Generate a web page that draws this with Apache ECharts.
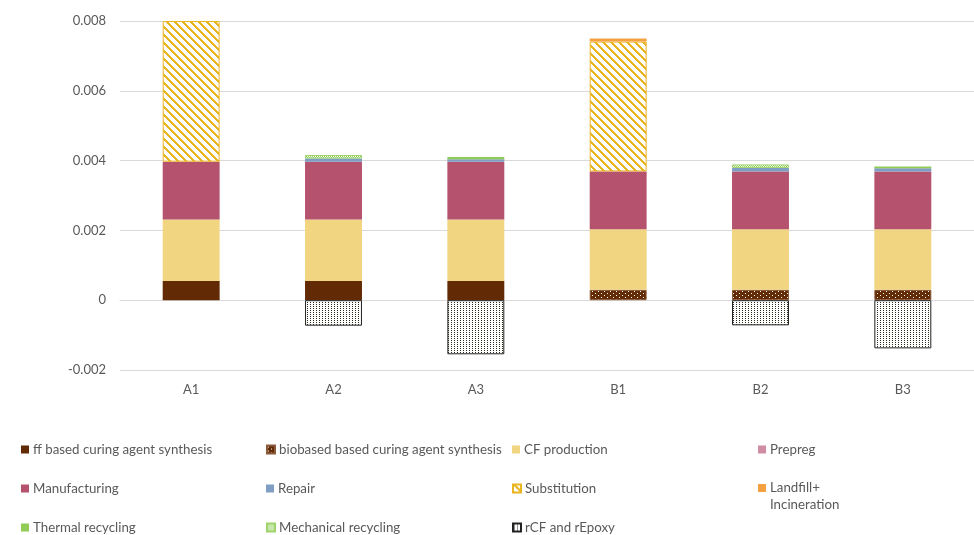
<!DOCTYPE html>
<html>
<head>
<meta charset="utf-8">
<script src="https://cdn.jsdelivr.net/npm/echarts@6/dist/echarts.min.js"></script>
<style>html,body{margin:0;padding:0;background:#fff;}#c{width:974px;height:535px;}</style>
</head>
<body>
<div id="c"></div>
<script>
var categories = ['A1','A2','A3','B1','B2','B3'];
var yTicks = [-0.002, 0, 0.002, 0.004, 0.006, 0.008];
var ffCuring      = [0.00055, 0.00055, 0.00055, 0, 0, 0];
var bioCuring     = [0, 0, 0, 0.0003, 0.0003, 0.0003];
var cfProduction  = [0.00176, 0.00176, 0.00176, 0.00173, 0.00173, 0.00173];
var prepreg       = [0, 0, 0, 0, 0, 0];
var manufacturing = [0.00166, 0.00166, 0.00166, 0.00166, 0.00166, 0.00166];
var repair        = [0, 0.00009, 0.00007, 0, 0.0001, 0.00009];
var substitution  = [0.00403, 0, 0, 0.00372, 0, 0];
var landfill      = [0, 0, 0, 0.00009, 0, 0];
var thermal       = [0, 0, 0.00006, 0, 0, 0.00005];
var mechanical    = [0, 0.0001, 0, 0, 0.0001, 0];
var rcfEpoxy      = [0, -0.00073, -0.00155, 0, -0.00072, -0.00138];

function mk(w, h, draw) {
  var c = document.createElement('canvas'); c.width = w; c.height = h;
  var g = c.getContext('2d'); draw(g); return c;
}
var stripe = mk(8, 8, function (g) {
  g.fillStyle = '#fff'; g.fillRect(0, 0, 8, 8);
  g.fillStyle = '#E9B523';
  for (var y = 0; y < 8; y++) {
    for (var j = 0; j < 3; j++) g.fillRect((y + j) % 8, y, 1, 1);
  }
});
var bioPat = mk(6, 4, function (g) {
  g.fillStyle = '#632A06'; g.fillRect(0, 0, 6, 4);
  g.fillStyle = '#fff'; g.fillRect(1, 1, 1, 1); g.fillRect(4, 3, 1, 1);
});
var rcfPat = mk(3, 2, function (g) {
  g.fillStyle = '#fff'; g.fillRect(0, 0, 3, 2);
  g.fillStyle = '#2d2d1e'; g.fillRect(1, 0, 1, 1);
});
var mechPat = mk(2, 2, function (g) {
  g.fillStyle = '#fff'; g.fillRect(0, 0, 2, 2);
  g.fillStyle = '#92CF5A'; g.fillRect(0, 0, 1, 1); g.fillRect(1, 1, 1, 1);
});
function pat(c) { return { image: c, repeat: 'repeat' }; }

var defs = [
  ['ff based curing agent synthesis', ffCuring, '#632A06', null],
  ['biobased based curing agent synthesis', bioCuring, pat(bioPat), '#8a5a3a'],
  ['CF production', cfProduction, '#F1D580', null],
  ['Prepreg', prepreg, '#CF8CA2', null],
  ['Manufacturing', manufacturing, '#B5536F', null],
  ['Repair', repair, '#7F9EC3', null],
  ['Substitution', substitution, pat(stripe), '#E9B523'],
  ['Landfill+\nIncineration', landfill, '#F4A142', null],
  ['Thermal recycling', thermal, '#8FCB55', null],
  ['Mechanical recycling', mechanical, pat(mechPat), '#9ED46B'],
  ['rCF and rEpoxy', rcfEpoxy, pat(rcfPat), '#222']
];
var series = defs.map(function (d) {
  return {
    name: d[0], type: 'bar', stack: 'total', barWidth: '40%',
    data: d[1].map(function (v) { return v === 0 ? null : v; }),
    itemStyle: { color: d[2], borderColor: d[3] || 'transparent', borderWidth: d[3] ? 1 : 0 },
    emphasis: { disabled: true }
  };
});
var legPos = [
  [21, 449], [266, 449], [512, 449], [758, 449],
  [21, 488], [266, 488], [512, 488], [758, 488],
  [21, 527], [266, 527], [512, 527]
];
var topIcon = 'path://M0,0h0.01v0.01h-0.01z M0,4.5h8v8h-8z M0,33.99h0.01v0.01h-0.01z';
var legends = defs.map(function (d, i) {
  var multi = d[0].indexOf('\n') >= 0;
  return {
    data: [d[0]], left: legPos[i][0], top: multi ? legPos[i][1] - 8.5 : legPos[i][1] - 8,
    orient: 'horizontal',
    icon: multi ? topIcon : 'rect', itemWidth: 8, itemHeight: multi ? 34 : 8, itemGap: 4, padding: 0,
    selectedMode: false,
    textStyle: { fontFamily: 'Lato', fontSize: 13.3, color: '#595959', lineHeight: 17,
      padding: [0, 0, 0, -1] }
  };
});
var chart = echarts.init(document.getElementById('c'), null, { renderer: 'canvas' });
chart.setOption({
  animation: false,
  grid: { left: 120, right: 0, top: 21, bottom: 165 },
  legend: legends,
  xAxis: {
    type: 'category', data: categories,
    axisLine: { onZero: true, lineStyle: { color: '#D9D9D9' } },
    axisTick: { show: false },
    axisLabel: { color: '#595959', fontFamily: 'Lato', fontSize: 13, margin: 13 }
  },
  yAxis: {
    type: 'value', min: yTicks[0], max: yTicks[yTicks.length - 1], interval: 0.002,
    axisLine: { show: false }, axisTick: { show: false },
    splitLine: { lineStyle: { color: '#D9D9D9' } },
    axisLabel: { color: '#595959', fontFamily: 'Lato', fontSize: 13, margin: 14,
      formatter: function (v) { return Math.abs(v) < 1e-12 ? '0' : v.toFixed(3); } }
  },
  series: series
});
</script>
</body>
</html>
